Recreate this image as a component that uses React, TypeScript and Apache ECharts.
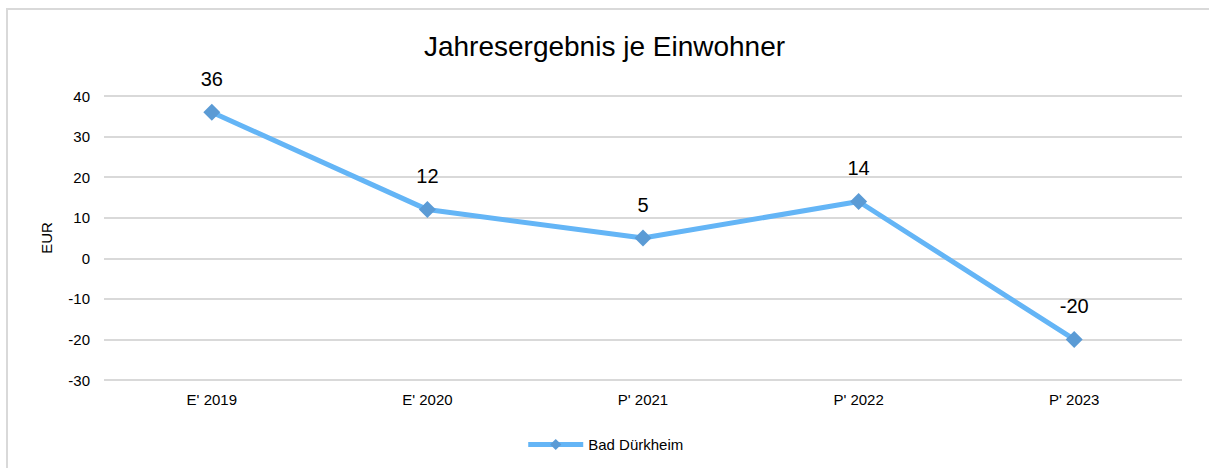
import React, { useEffect, useRef } from "react";
import * as echarts from "echarts";

const categories = ["E' 2019", "E' 2020", "P' 2021", "P' 2022", "P' 2023"];
const values = [36, 12, 5, 14, -20];
const seriesName = "Bad Dürkheim";
const titleText = "Jahresergebnis je Einwohner";
const yAxisName = "EUR";

export default function App() {
  const ref = useRef<HTMLDivElement>(null);
  useEffect(() => {
    if (!ref.current) return;
    const chart = echarts.init(ref.current, null, { renderer: "svg" });
    const font = "'Liberation Sans', Arial, sans-serif";
    chart.setOption({
      animation: false,
      backgroundColor: "#ffffff",
      textStyle: { fontFamily: font },
      graphic: [
        {
          type: "rect",
          shape: { x: 7, y: 9, width: 1400, height: 600 },
          style: { fill: "none", stroke: "#d9d9d9", lineWidth: 2 },
          silent: true,
          z: -1,
        },
      ],
      title: {
        text: titleText,
        left: "center",
        top: 27,
        textStyle: { fontFamily: font, fontSize: 28, fontWeight: "normal", color: "#000" },
      },
      legend: {
        bottom: 11,
        left: "center",
        itemWidth: 55,
        itemHeight: 14,
        itemGap: 4,
        lineStyle: { width: 5 },
        textStyle: { fontFamily: font, fontSize: 15, color: "#000" },
        data: [seriesName],
      },
      grid: { left: 104, right: 27, top: 96, bottom: 88, containLabel: false },
      xAxis: {
        type: "category",
        data: categories,
        boundaryGap: true,
        axisLine: { show: false },
        axisTick: { show: false },
        axisLabel: { fontFamily: font, fontSize: 15, color: "#000", margin: 12 },
        splitLine: { show: false },
      },
      yAxis: {
        type: "value",
        min: -30,
        max: 40,
        interval: 10,
        name: yAxisName,
        nameLocation: "middle",
        nameGap: 50,
        nameRotate: 90,
        nameTextStyle: { fontFamily: font, fontSize: 15, color: "#000" },
        axisLine: { show: false },
        axisTick: { show: false },
        axisLabel: { fontFamily: font, fontSize: 15, color: "#000", margin: 14 },
        splitLine: { lineStyle: { color: "#d9d9d9", width: 2 } },
      },
      series: [
        {
          name: seriesName,
          type: "line",
          data: values,
          symbol: "diamond",
          symbolSize: 17,
          itemStyle: { color: "#5b9bd5" },
          lineStyle: { color: "#64b5f6", width: 5 },
          label: {
            show: true,
            position: "top",
            distance: 15,
            fontFamily: font,
            fontSize: 20,
            color: "#000",
          },
        },
      ],
    });
    return () => chart.dispose();
  }, []);
  return (
    <div
      ref={ref}
      style={{ position: "absolute", left: 0, top: 0, width: 1209, height: 468 }}
    />
  );
}
